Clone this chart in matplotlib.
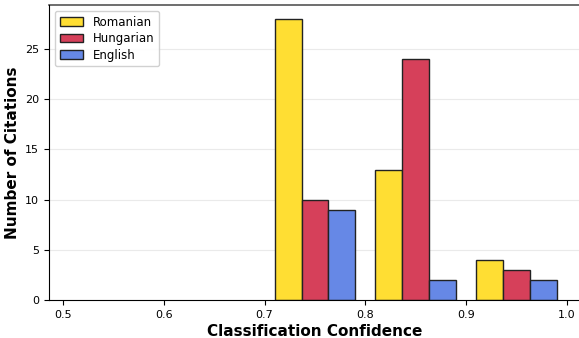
import numpy as np
import matplotlib
matplotlib.use('Agg')
import matplotlib.pyplot as plt

# histogram bins (confidence) and counts per language
bordes = [0.5, 0.6, 0.7, 0.8, 0.9, 1.0]
rumano = [0, 0, 28, 13, 4]
hungaro = [0, 0, 10, 24, 3]
ingles = [0, 0, 9, 2, 2]
idiomas = ['Romanian', 'Hungarian', 'English']
colores = ['#FFDE33', '#D6405A', '#6688E6']

centros = [(bordes[i] + bordes[i + 1]) / 2 for i in range(len(bordes) - 1)]

fig = plt.figure(figsize=(5.79, 3.38), dpi=100)
ax = fig.add_axes([49 / 579, 38 / 338, 532 / 579, 295 / 338])

n, b, grupos = ax.hist([centros, centros, centros], bins=bordes,
                       weights=[rumano, hungaro, ingles],
                       color=colores, label=idiomas,
                       edgecolor='#222222', linewidth=1.0, zorder=2)
# las barras vacias no se ven en el original
for grupo in grupos:
    for barra in grupo:
        if barra.get_height() == 0:
            barra.set_visible(False)

ax.set_xlabel('Classification Confidence', fontsize=11, fontweight='bold', labelpad=3)
ax.set_ylabel('Number of Citations', fontsize=11, fontweight='bold', labelpad=4)
ax.set_xticks([0.5, 0.6, 0.7, 0.8, 0.9, 1.0])
ax.set_yticks([0, 5, 10, 15, 20, 25])
ax.tick_params(labelsize=8)
ax.grid(axis='y', color='#dddddd', alpha=0.6, linewidth=0.8, zorder=0)
ax.set_axisbelow(True)
ax.spines['right'].set_visible(False)
ax.spines['top'].set_color('#555555')
ax.spines['top'].set_linewidth(1.2)
for lado in ['left', 'bottom']:
    ax.spines[lado].set_zorder(4)

# usar una barra visible de cada grupo para la leyenda
manijas = [grupo[-1] for grupo in grupos]
ax.legend(manijas, idiomas, loc='upper left', fontsize=8.5, framealpha=0.9,
          labelspacing=0.3)

fig.savefig('out.png', dpi=100)
